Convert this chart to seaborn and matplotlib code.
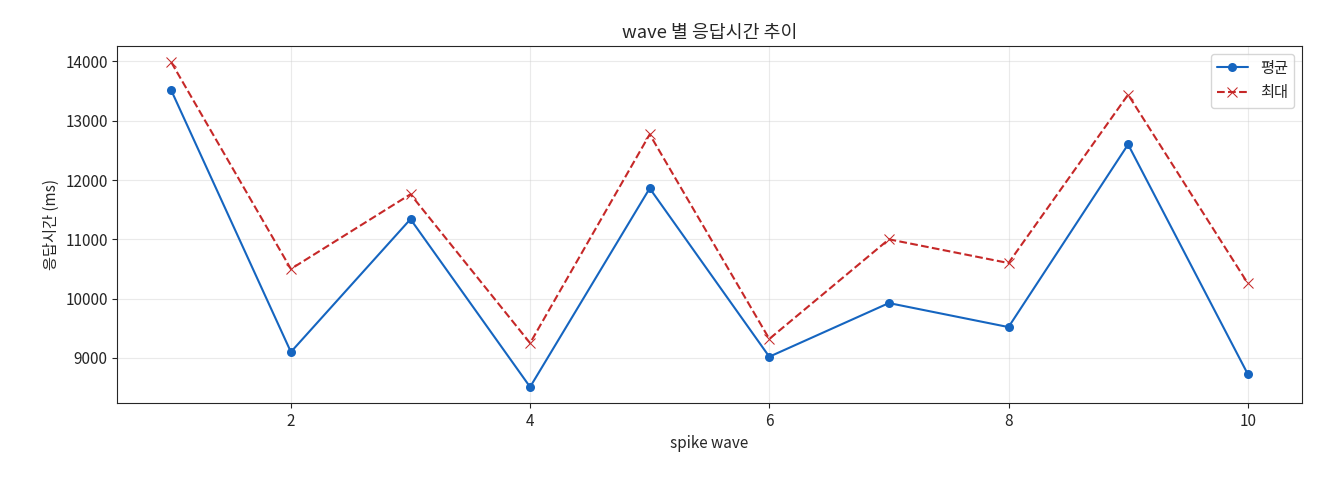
import matplotlib
matplotlib.use("Agg")
import matplotlib.pyplot as plt
import seaborn as sns
import pandas as pd

waves = [1, 2, 3, 4, 5, 6, 7, 8, 9, 10]
mean_ms = [13510, 9100, 11340, 8510, 11860, 9020, 9925, 9520, 12600, 8730]
max_ms = [13985, 10500, 11760, 9250, 12770, 9320, 11000, 10600, 13440, 10260]

sns.set_style("ticks")
plt.rcParams["font.family"] = ["Noto Sans CJK KR", "DejaVu Sans"]
plt.rcParams["axes.unicode_minus"] = False
plt.rcParams["font.size"] = 11

df = pd.DataFrame({"wave": waves, "mean": mean_ms, "max": max_ms})

fig, ax = plt.subplots(figsize=(13.2, 4.8), dpi=100)
sns.lineplot(data=df, x="wave", y="mean", ax=ax, color="#1565c0", marker="o",
             markersize=6.5, markeredgewidth=0, linewidth=1.5, label="평균")
sns.lineplot(data=df, x="wave", y="max", ax=ax, color="#c62828", marker="x",
             markersize=6.5, linewidth=1.5, linestyle="--", label="최대",
             markeredgecolor="#c62828")
ax.grid(True, alpha=0.4, color="#cccccc")
ax.set_title("wave 별 응답시간 추이")
ax.set_xlabel("spike wave")
ax.set_ylabel("응답시간 (ms)")
ax.legend(loc="upper right")
fig.subplots_adjust(left=0.089, right=0.986, top=0.904, bottom=0.16)
fig.savefig("out.png", dpi=100)
